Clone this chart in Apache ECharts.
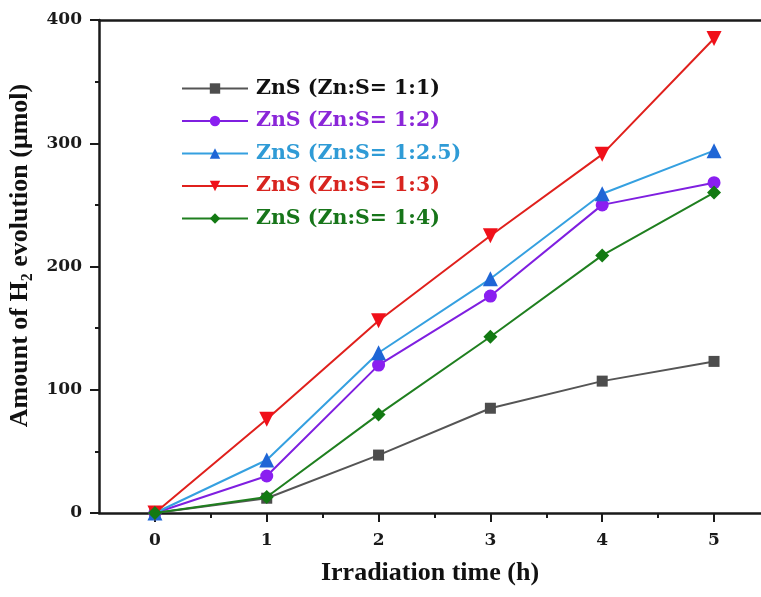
<!DOCTYPE html>
<html>
<head>
<meta charset="utf-8">
<script src="https://cdn.jsdelivr.net/npm/echarts@6/dist/echarts.min.js"></script>
<style>
  html, body { margin: 0; padding: 0; background: #fff; }
  #chart { width: 761px; height: 597px; }
</style>
</head>
<body>
<div id="chart"></div>
<script>
var hours = [0, 1, 2, 3, 4, 5];
var halfHours = [0.5, 1.5, 2.5, 3.5, 4.5];
var seriesNames = ['ZnS (Zn:S= 1:1)', 'ZnS (Zn:S= 1:2)', 'ZnS (Zn:S= 1:2.5)', 'ZnS (Zn:S= 1:3)', 'ZnS (Zn:S= 1:4)'];
var ratio11 = [0, 12, 47, 85, 107, 123];
var ratio12 = [0, 30, 120, 176, 250, 268];
var ratio125 = [0, 43, 130, 190, 259, 294];
var ratio13 = [0, 76, 156, 225, 291, 385];
var ratio14 = [0, 13, 80, 143, 209, 260];

var wideSerif = '"DejaVu Serif", "Liberation Serif", serif';
var serif = '"Liberation Serif", "Times New Roman", serif';
var lineColors = ['#555555', '#7f1fe0', '#35a0e0', '#e0201c', '#1f7f1f'];
var markColors = ['#4d4d4d', '#8a1ff0', '#1f66d6', '#f0101a', '#137a13'];
var textColors = ['#111111', '#8a26d8', '#2f9bd6', '#d8241f', '#17751a'];
var symbols = ['rect', 'circle', 'triangle', 'path://M0,0 L10,0 L5,9 Z', 'diamond'];
var sizes = [11, 13, 15, 15, 14];
var allData = [ratio11, ratio12, ratio125, ratio13, ratio14];

var myChart = echarts.init(document.getElementById('chart'));

var series = [];
for (var i = 0; i < allData.length; i++) {
  series.push({
    name: seriesNames[i],
    type: 'line',
    symbol: symbols[i],
    symbolSize: sizes[i],
    data: hours.map(function (h, j) { return [h, allData[i][j]]; }),
    lineStyle: { color: lineColors[i], width: 2 },
    itemStyle: { color: markColors[i] },
    z: 2 + i
  });
}

var axisCol = '#1a1a1a';
var option = {
  animation: false,
  backgroundColor: '#fff',
  grid: { left: 99, right: 0, top: 20, bottom: 84, outerBoundsMode: 'none', containLabel: false },
  legend: {
    orient: 'vertical',
    left: 181,
    top: 78,
    padding: 0,
    itemGap: 11.5,
    itemWidth: 66,
    itemHeight: 13,
    textStyle: { fontFamily: wideSerif, fontWeight: 'bold', fontSize: 20.5, padding: [0, 0, 0, 3] },
    data: seriesNames.map(function (n, i) {
      return { name: n, textStyle: { color: textColors[i] } };
    })
  },
  xAxis: [{
    type: 'value',
    min: -0.5,
    max: 5.42,
    name: 'Irradiation time (h)',
    nameLocation: 'middle',
    nameGap: 47,
    nameTextStyle: { fontFamily: serif, fontWeight: 'bold', fontSize: 26, color: '#111' },
    axisLine: { show: true, onZero: false, lineStyle: { color: axisCol, width: 2.5 } },
    axisTick: { show: true, length: 9, customValues: hours, lineStyle: { color: axisCol, width: 2 } },
    splitLine: { show: false },
    axisLabel: {
      customValues: hours,
      fontFamily: wideSerif, fontWeight: 'bold', fontSize: 17, color: axisCol, margin: 19
    }
  }, {
    // minor ticks between hours
    type: 'value',
    position: 'bottom',
    min: -0.5,
    max: 5.42,
    axisLine: { show: false },
    axisTick: { show: true, length: 5, customValues: halfHours, lineStyle: { color: axisCol, width: 2 } },
    axisLabel: { show: false },
    splitLine: { show: false }
  }, {
    type: 'value',
    position: 'top',
    min: -0.5,
    max: 5.42,
    axisLine: { show: true, lineStyle: { color: axisCol, width: 2.5 } },
    axisTick: { show: false },
    axisLabel: { show: false },
    splitLine: { show: false }
  }],
  yAxis: {
    type: 'value',
    min: 0,
    max: 400,
    interval: 100,
    name: '{a|Amount of H}{s|2}{a| evolution (μmol)}',
    nameLocation: 'middle',
    nameGap: 61,
    nameRotate: 90,
    nameTextStyle: {
      padding: [0, 0, 0, 22],
      rich: {
        a: { fontFamily: serif, fontWeight: 'bold', fontSize: 26, color: '#111' },
        s: { fontFamily: serif, fontWeight: 'bold', fontSize: 16, color: '#111', padding: [14, 0, 0, 0] }
      }
    },
    axisLine: { show: true, onZero: false, lineStyle: { color: axisCol, width: 2.5 } },
    axisTick: { show: true, length: 9, lineStyle: { color: axisCol, width: 2 } },
    minorTick: { show: true, splitNumber: 2, length: 4, lineStyle: { color: axisCol, width: 2 } },
    splitLine: { show: false },
    axisLabel: { fontFamily: wideSerif, fontWeight: 'bold', fontSize: 17, color: axisCol, margin: 17 }
  },
  series: series
};
myChart.setOption(option);
</script>
</body>
</html>
